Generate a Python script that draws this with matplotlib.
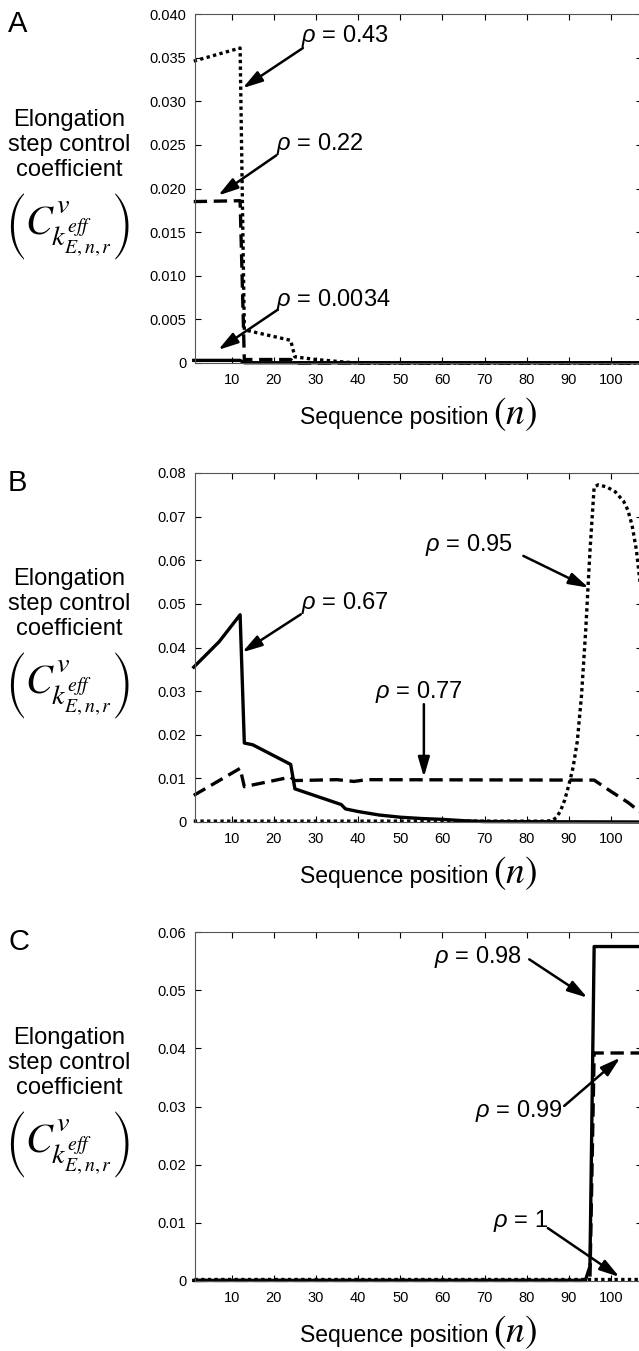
import matplotlib
matplotlib.use('Agg')
import matplotlib.pyplot as plt

plt.rcParams['font.family'] = ['Liberation Sans', 'DejaVu Sans']
plt.rcParams['mathtext.fontset'] = 'custom'
plt.rcParams['mathtext.it'] = 'Liberation Sans:italic'
plt.rcParams['mathtext.rm'] = 'Liberation Sans'

# ---- data (sequence position n, control coefficient) ----
# panel A
a043_n = [1, 12, 13, 24, 25, 30, 37, 40, 108]
a043_y = [0.0346, 0.0361, 0.0038, 0.0026, 0.0007, 0.0004, 0.0001, 0.0, 0.0]
a022_n = [1, 12, 13, 24, 25, 108]
a022_y = [0.0185, 0.0186, 0.0004, 0.0004, 0.0, 0.0]
a0034_n = [1, 12, 13, 108]
a0034_y = [0.0003, 0.0003, 0.00003, 0.00003]

# panel B
b067_n = [1, 7, 12, 13, 15, 24, 25, 36, 37, 40, 45, 50, 55, 60, 65, 70, 108]
b067_y = [0.0355, 0.0413, 0.0475, 0.0181, 0.0177, 0.0132, 0.0076, 0.0040, 0.0030,
          0.0024, 0.0016, 0.0011, 0.0008, 0.0006, 0.0003, 0.0001, 0.0]
b077_n = [1, 12, 13, 24, 25, 35, 39, 42, 96, 100, 104, 108]
b077_y = [0.0061, 0.0123, 0.0081, 0.0103, 0.0095, 0.0097, 0.0093, 0.0097, 0.0096,
          0.0070, 0.0045, 0.0015]
b095_n = [1, 84, 86, 87, 88, 89, 90, 91, 92, 93, 94, 95, 96, 97, 99, 101, 103, 104,
          105, 106, 107, 108]
b095_y = [0.0002, 0.0002, 0.0003, 0.0010, 0.0025, 0.0050, 0.0085, 0.0125, 0.0185,
          0.0290, 0.0440, 0.0620, 0.0768, 0.0773, 0.0768, 0.0757, 0.0735, 0.0715,
          0.0680, 0.0625, 0.0540, 0.0450]

# panel C
c098_n = [1, 93, 94, 95, 96, 108]
c098_y = [0.0001, 0.0001, 0.0003, 0.0025, 0.0575, 0.0575]
c099_n = [1, 95, 96, 108]
c099_y = [0.0001, 0.0001, 0.0392, 0.0392]
c1_n = [1, 108]
c1_y = [0.0003, 0.0003]

xticks = [10, 20, 30, 40, 50, 60, 70, 80, 90, 100]
a_yticks = [0, 0.005, 0.010, 0.015, 0.020, 0.025, 0.030, 0.035, 0.040]
a_ylabels = ['0', '0.005', '0.010', '0.015', '0.020', '0.025', '0.030', '0.035', '0.040']
b_yticks = [0, 0.01, 0.02, 0.03, 0.04, 0.05, 0.06, 0.07, 0.08]
b_ylabels = ['0', '0.01', '0.02', '0.03', '0.04', '0.05', '0.06', '0.07', '0.08']
c_yticks = [0, 0.01, 0.02, 0.03, 0.04, 0.05, 0.06]
c_ylabels = ['0', '0.01', '0.02', '0.03', '0.04', '0.05', '0.06']

W, H = 639, 1351
fig = plt.figure(figsize=(W / 100, H / 100), dpi=100)

SOLID = dict(color='k', lw=2.4, ls='-', clip_on=False)
DASH = dict(color='k', lw=2.4, ls=(0, (4, 2)), clip_on=False)
DOT = dict(color='k', lw=2.4, ls=(0, (1, 1)), clip_on=False)


def make_axes(top_px, yticks, ylabels):
    ax = fig.add_axes([194.8 / W, 1 - (top_px + 349) / H, 447.4 / W, 349 / H])
    ax.set_xlim(1.25, 107.4)
    ax.set_ylim(yticks[0], yticks[-1])
    ax.set_xticks(xticks)
    ax.set_yticks(yticks)
    ax.set_yticklabels(ylabels)
    ax.tick_params(direction='in', length=4, width=0.8, top=True, right=True,
                   labelsize=10.5, color='k')
    ax.tick_params(axis='y', pad=6)
    ax.tick_params(axis='x', pad=7)
    for s in ax.spines.values():
        s.set_color('#555555')
        s.set_linewidth(0.8)
    return ax


def label(ax, text, txy, tail, tip):
    ax.text(txy[0], txy[1], text, fontsize=17, ha='left', va='center')
    ax.annotate('', xy=tip, xytext=tail,
                arrowprops=dict(arrowstyle='-|>,head_length=0.75,head_width=0.22',
                                lw=1.8, color='k', shrinkA=0, shrinkB=0,
                                mutation_scale=16))


def side_text(off, letter, bottom_px):
    fig.text(8 / W, 1 - (32 + off) / H, letter, fontsize=21, ha='left', va='baseline')
    fig.text(69 / W, 1 - (145 + off) / H, 'Elongation\nstep control\ncoefficient',
             fontsize=17, ha='center', va='center', linespacing=1.2)
    # tall TeX-style parentheses around the coefficient symbol
    fig.text(5 / W, 1 - (227 + off) / H, '(', family='STIXSizeThreeSym',
             fontsize=19.5, ha='left', va='center')
    fig.text(133 / W, 1 - (227 + off) / H, ')', family='STIXSizeThreeSym',
             fontsize=19.5, ha='right', va='center')
    fig.text(25 / W, 1 - (229 + off) / H, r'$C^{v}_{k^{eff}_{E,n,r}}$',
             math_fontfamily='stix', fontsize=29, ha='left', va='center')
    fig.text(488 / W, 1 - (bottom_px + 61) / H, 'Sequence position', fontsize=16.5,
             ha='right', va='baseline')
    fig.text(493 / W, 1 - (bottom_px + 61) / H, r'$(n)$', math_fontfamily='stix',
             fontsize=27, ha='left', va='baseline')


# A
ax = make_axes(14, a_yticks, a_ylabels)
ax.plot(a0034_n, a0034_y, **SOLID)
ax.plot(a022_n, a022_y, **DASH)
ax.plot(a043_n, a043_y, **DOT)
label(ax, r'$\rho$ = 0.43', (26.4, 0.0375), (26.9, 0.0361), (12.6, 0.0315))
label(ax, r'$\rho$ = 0.22', (20.6, 0.0251), (20.6, 0.0238), (6.8, 0.0192))
label(ax, r'$\rho$ = 0.0034', (20.6, 0.0072), (20.9, 0.0061), (6.8, 0.0015))
side_text(0, 'A', 363)

# B
ax = make_axes(473, b_yticks, b_ylabels)
ax.plot(b067_n, b067_y, **SOLID)
ax.plot(b077_n, b077_y, **DASH)
ax.plot(b095_n, b095_y, **DOT)
label(ax, r'$\rho$ = 0.67', (26.4, 0.0503), (26.4, 0.0476), (12.5, 0.0389))
label(ax, r'$\rho$ = 0.77', (44.0, 0.0297), (55.6, 0.0270), (55.6, 0.0103))
label(ax, r'$\rho$ = 0.95', (55.9, 0.0636), (79.2, 0.0610), (94.7, 0.0537))
side_text(459, 'B', 822)

# C
ax = make_axes(932, c_yticks, c_ylabels)
ax.plot(c098_n, c098_y, **SOLID)
ax.plot(c099_n, c099_y, **DASH)
ax.plot(c1_n, c1_y, **DOT)
label(ax, r'$\rho$ = 0.98', (57.9, 0.0557), (80.6, 0.0553), (94.4, 0.0487))
label(ax, r'$\rho$ = 0.99', (67.8, 0.0293), (88.9, 0.0301), (102.2, 0.0384))
label(ax, r'$\rho$ = 1', (71.9, 0.0104), (85.0, 0.0091), (102.0, 0.0007))
side_text(918, 'C', 1281)

fig.savefig('out.png', dpi=100)
